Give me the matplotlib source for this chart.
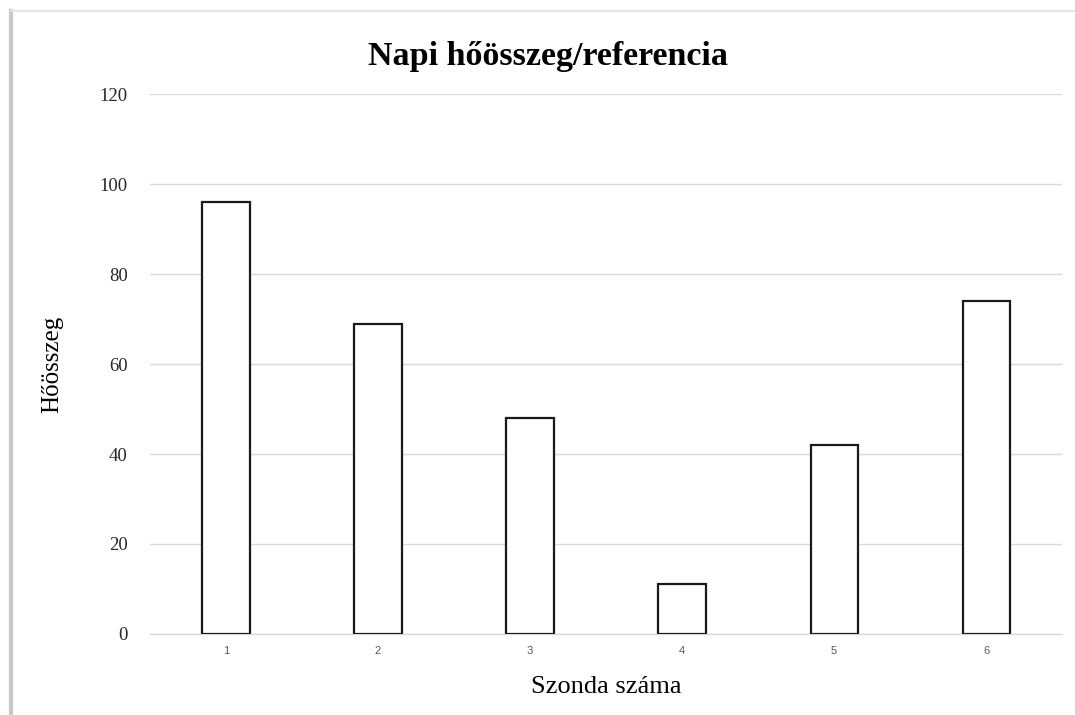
import numpy as np
import matplotlib.pyplot as plt
from matplotlib.lines import Line2D

# Szonda adatok
szondak = ["1", "2", "3", "4", "5", "6"]
hoosszeg = [96, 69, 48, 11, 42, 74]
y_ticks = [0, 20, 40, 60, 80, 100, 120]

plt.rcParams['font.family'] = ['Liberation Serif', 'DejaVu Serif']

fig = plt.figure(figsize=(10.75, 7.15), dpi=100)
ax = fig.add_axes([0.1395, 0.1133, 0.8485, 0.7552])

x = np.arange(len(szondak))
ax.bar(x, hoosszeg, width=0.31, color='white', edgecolor='#1a1a1a',
       linewidth=1.6, zorder=3)

ax.set_xlim(-0.5, len(szondak) - 0.5)
ax.set_ylim(0, 120)
ax.set_yticks(y_ticks)
ax.set_yticklabels([str(v) for v in y_ticks], fontsize=13.5, color='#262626')
ax.set_xticks(x)
ax.set_xticklabels(szondak, fontsize=8, color='#595959', family='Liberation Sans')
ax.tick_params(axis='both', length=0)
ax.tick_params(axis='x', pad=9)
ax.tick_params(axis='y', pad=16)

ax.yaxis.grid(True, color='#d9d9d9', linewidth=1.0, zorder=0)
for s in ['top', 'right', 'left']:
    ax.spines[s].set_visible(False)
ax.spines['bottom'].set_color('#d9d9d9')
ax.spines['bottom'].set_linewidth(1.0)

fig.text(0.51, 0.921, "Napi hőösszeg/referencia", ha='center', va='center',
         fontsize=24.5, fontweight='bold')
ax.set_xlabel("Szonda száma", fontsize=19, labelpad=14)
ax.set_ylabel("Hőösszeg", fontsize=18, labelpad=26)

# keret (Excel diagram szegély)
fig.add_artist(Line2D([0.0102, 0.0102], [0, 0.985], color='#c8c8c8', linewidth=3,
                      transform=fig.transFigure))
fig.add_artist(Line2D([0.0102, 1.0], [0.985, 0.985], color='#e6e6e6', linewidth=1.5,
                      transform=fig.transFigure))

fig.savefig("out.png", dpi=100)
